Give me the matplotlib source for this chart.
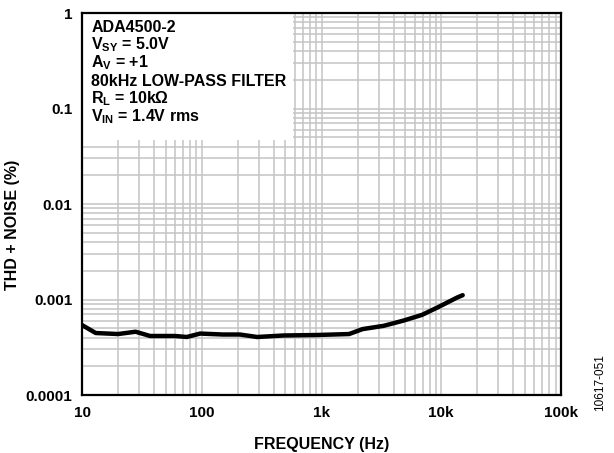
import numpy as np
import matplotlib
matplotlib.use('Agg')
import matplotlib.pyplot as plt
from matplotlib.patches import Rectangle
from matplotlib.ticker import FixedLocator, FixedFormatter, NullFormatter

plt.rcParams['font.family'] = ['Liberation Sans', 'DejaVu Sans']
plt.rcParams['font.weight'] = 'bold'
plt.rcParams['mathtext.fontset'] = 'custom'
plt.rcParams['mathtext.rm'] = 'Liberation Sans:bold'
plt.rcParams['mathtext.bf'] = 'Liberation Sans:bold'

# THD + N vs frequency
freq = [10, 13, 20, 28, 37, 60, 75, 97, 150, 208, 290, 480, 920,
        1700, 2200, 3300, 4800, 6900, 9200, 13600, 15100]
thd = [0.00054, 0.000446, 0.000435, 0.00046, 0.000415, 0.000415, 0.000405,
       0.00044, 0.00043, 0.00043, 0.000405, 0.00042, 0.000425,
       0.000435, 0.00049, 0.00053, 0.0006, 0.00069, 0.00082, 0.00105, 0.00111]

xticks = [10, 100, 1000, 10000, 100000]
xlabels = ['10', '100', '1k', '10k', '100k']
yticks = [0.0001, 0.001, 0.01, 0.1, 1]
ylabels = ['0.0001', '0.001', '0.01', '0.1', '1']

notes = ['ADA4500-2',
         r'V$_{\mathbf{SY}}$ = 5.0V',
         r'A$_{\mathbf{V}}$ = +1',
         '80kHz LOW-PASS FILTER',
         r'R$_{\mathbf{L}}$ = 10kΩ',
         r'V$_{\mathbf{IN}}$ = 1.4V rms']

fig = plt.figure(figsize=(6.14, 4.53), dpi=100)
ax = fig.add_axes([0.1336, 0.128, 0.7801, 0.8433])

ax.plot(freq, thd, color='black', linewidth=3.2, solid_capstyle='round', zorder=5)
ax.set_xscale('log')
ax.set_yscale('log')
ax.set_xlim(10, 100000)
ax.set_ylim(0.0001, 1)

ax.xaxis.set_major_locator(FixedLocator(xticks))
ax.xaxis.set_major_formatter(FixedFormatter(xlabels))
ax.yaxis.set_major_locator(FixedLocator(yticks))
ax.yaxis.set_major_formatter(FixedFormatter(ylabels))
ax.xaxis.set_minor_formatter(NullFormatter())
ax.yaxis.set_minor_formatter(NullFormatter())
ax.tick_params(which='both', length=0)
ax.tick_params(axis='x', pad=8, labelsize=11)
ax.tick_params(axis='y', pad=7, labelsize=11)

ax.grid(which='both', color='#c4c4c4', linewidth=1.1)
ax.set_axisbelow(True)
for s in ax.spines.values():
    s.set_linewidth(1.6)
    s.set_zorder(6)

# white box behind the notes hides the grid
ax.add_patch(Rectangle((0, 0.6675), 0.4405, 0.3325, transform=ax.transAxes,
                       facecolor='white', edgecolor='none', zorder=2))
ys = [27, 45, 63, 81, 99, 117]
for t, yp in zip(notes, ys):
    ax.text(0.019, (395 - yp) / 382, t, transform=ax.transAxes, fontsize=11.5,
            fontweight='bold', va='center', ha='left', zorder=3)

ax.set_xlabel('FREQUENCY (Hz)', fontsize=11.5, fontweight='bold')
ax.xaxis.set_label_coords(0.5, -0.11)
ax.set_ylabel('THD + NOISE (%)', fontsize=11.5, fontweight='bold')
ax.yaxis.set_label_coords(-0.129, 0.445)

fig.text(0.977, 0.155, '10617-051', rotation=90, fontsize=8.5,
         fontweight='normal', ha='center', va='center')

fig.savefig('out.png', dpi=100)
